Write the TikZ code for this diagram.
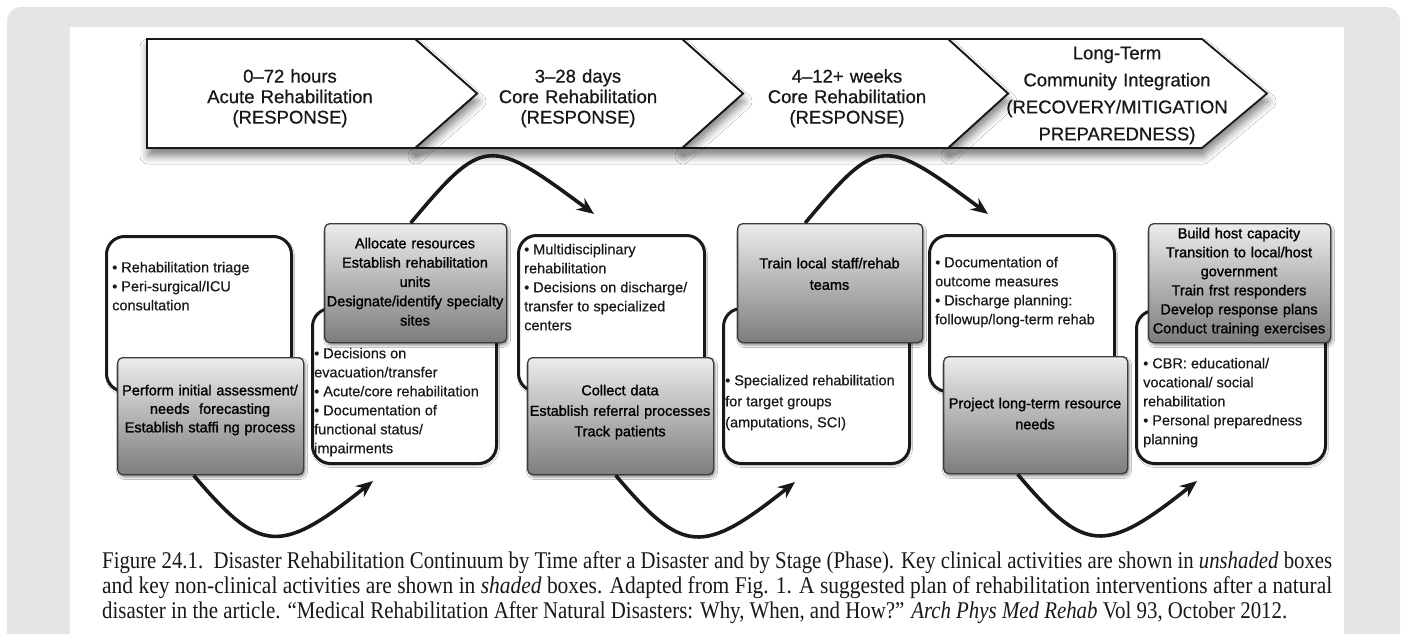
\documentclass[tikz,border=0pt]{standalone}
\usepackage{fontspec}
\setmainfont{Liberation Sans}
\newfontfamily\capfont{Liberation Serif}
\newfontfamily\shfont[FakeBold=1.2]{Liberation Sans}
\newfontfamily\wfont[FakeBold=0.5]{Liberation Sans}
\newfontfamily\chfont[FakeBold=0.7]{Liberation Sans}
\usepackage{graphicx}
\usetikzlibrary{arrows.meta,calc,shadows.blur}
\definecolor{pagegrey}{RGB}{229,229,229}
\definecolor{shtop}{RGB}{236,236,236}
\definecolor{shbot}{RGB}{125,125,125}
\definecolor{shedge}{RGB}{60,60,60}
\definecolor{ink}{RGB}{25,25,25}
\tikzset{
  chev/.style={draw=ink, line width=1.8pt, fill=white, line join=miter,
    blur shadow={shadow xshift=1pt, shadow yshift=-8pt, shadow blur radius=8pt, shadow opacity=50}},
  chevtext/.style={font=\chfont\fontsize{18.5}{20.5}\selectfont, align=center, text width=250pt, inner sep=0pt, text=ink},
  wbox/.style={draw=ink, line width=3pt, rounded corners=18pt, fill=white, inner sep=0pt, anchor=north west,
    blur shadow={shadow xshift=1pt, shadow yshift=-2pt, shadow blur radius=2pt, shadow opacity=30}},
  sbox/.style={draw=shedge, line width=1.3pt, rounded corners=5pt, top color=shtop, bottom color=shbot,
    inner sep=0pt, anchor=north west,
    blur shadow={shadow xshift=1.5pt, shadow yshift=-2.5pt, shadow blur radius=2.5pt, shadow opacity=45}},
  wtext/.style={font=\wfont\fontsize{14.5}{19}\selectfont, align=left, inner sep=0pt, anchor=north west, text=ink},
  stext/.style={font=\shfont\fontsize{14.5}{19}\selectfont, align=center, text width=200pt, inner sep=0pt, anchor=north, text=black},
  bigarrow/.style={draw=ink, line width=3.6pt, -{Stealth[length=17pt,width=14pt]}},
}
\begin{document}
\begin{tikzpicture}[x=1pt,y=-1pt]
\useasboundingbox (0,0) rectangle (1407,633);
% background
\begin{scope}
  \clip (0,0) rectangle (1407,633);
  \fill[pagegrey, rounded corners=14pt] (7,7) rectangle (1400,700);
  \fill[white] (70,27) rectangle (1344,700);
\end{scope}
% chevrons (right to left)
\filldraw[chev] (948,39) -- (1202,39) -- (1267,93.5) -- (1202,148) -- (948,148) -- (1008,93.5) -- cycle;
\filldraw[chev] (682,39) -- (948,39) -- (1008,93.5) -- (948,148) -- (682,148) -- (743,93.5) -- cycle;
\filldraw[chev] (415,39) -- (682,39) -- (743,93.5) -- (682,148) -- (415,148) -- (477,93.5) -- cycle;
\filldraw[chev] (147,39) -- (415,39) -- (477,93.5) -- (415,148) -- (147,148) -- cycle;
\node[chevtext] (c1) at (290,98.3) {0–72 hours\\Acute Rehabilitation\\(RESPONSE)};
\node[chevtext] (c2) at (578,98.3) {3–28 days\\Core Rehabilitation\\(RESPONSE)};
\node[chevtext] (c3) at (847,98.3) {4–12+ weeks\\Core Rehabilitation\\(RESPONSE)};
\node[chevtext, font=\chfont\fontsize{18.5}{27}\selectfont] (c4) at (1117,95.4) {Long-Term\\Community Integration\\(RECOVERY/MITIGATION\\PREPAREDNESS)};
% boxes
\node[wbox, minimum width=185pt, minimum height=155pt] (wA) at (105,235) {};
\node[sbox, minimum width=186pt, minimum height=117pt] (sA) at (117,357) {};
\node[wbox, minimum width=184pt, minimum height=155pt] (wB) at (311,307) {};
\node[sbox, minimum width=182pt, minimum height=119pt] (sB) at (324,223) {};
\node[wbox, minimum width=186pt, minimum height=156pt] (wC) at (517,234) {};
\node[sbox, minimum width=186pt, minimum height=117pt] (sC) at (527,357) {};
\node[wbox, minimum width=186pt, minimum height=155pt] (wD) at (722,307) {};
\node[sbox, minimum width=185pt, minimum height=119pt] (sD) at (737,223) {};
\node[wbox, minimum width=185pt, minimum height=156pt] (wE) at (928,234) {};
\node[sbox, minimum width=184pt, minimum height=117pt] (sE) at (943,356) {};
\node[wbox, minimum width=189pt, minimum height=153pt] (wF) at (1135,309) {};
\node[sbox, minimum width=182pt, minimum height=119pt] (sF) at (1148,223) {};
% texts
\node[wtext] (tA) at (112,261.6) {• Rehabilitation triage\\• Peri-surgical/ICU\\consultation};
\node[wtext] (tB) at (314,347.6) {• Decisions on\\evacuation/transfer\\• Acute/core rehabilitation\\• Documentation of\\functional status/\\impairments};
\node[wtext] (tC) at (524,243.6) {• Multidisciplinary\\rehabilitation\\• Decisions on discharge/\\transfer to specialized\\centers};
\node[wtext, font=\wfont\fontsize{14.5}{21}\selectfont] (tD) at (725,374.6) {• Specialized rehabilitation\\for target groups\\(amputations, SCI)};
\node[wtext] (tE) at (935,256.6) {• Documentation of\\outcome measures\\• Discharge planning:\\followup/long-term rehab};
\node[wtext] (tF) at (1143,357.6) {• CBR: educational/\\vocational/ social\\rehabilitation\\• Personal preparedness\\planning};
\node[stext, font=\shfont\fontsize{14.5}{18.5}\selectfont] (uA) at (210,384.6) {Perform initial assessment/\\needs\ \ forecasting\\Establish staffi ng process};
\node[stext, font=\shfont\fontsize{14.5}{19.3}\selectfont] (uB) at (415,237.6) {Allocate resources\\Establish rehabilitation\\units\\Designate/identify specialty\\sites};
\node[stext, font=\shfont\fontsize{14.5}{20.5}\selectfont] (uC) at (620,384.6) {Collect data\\Establish referral processes\\Track patients};
\node[stext, font=\shfont\fontsize{14.5}{21.5}\selectfont] (uD) at (829.5,257.6) {Train local staff/rehab\\teams};
\node[stext, font=\shfont\fontsize{14.5}{21}\selectfont] (uE) at (1035,397.6) {Project long-term resource\\needs};
\node[stext] (uF) at (1239,227.6) {Build host capacity\\Transition to local/host\\government\\Train frst responders\\Develop response plans\\Conduct training exercises};
% arrows
\coordinate (e1) at (594,214);
\coordinate (e2) at (988,214);
\coordinate (e3) at (373,481);
\coordinate (e4) at (795,482);
\coordinate (e5) at (1197,481);
\draw[bigarrow] ([xshift=-5pt]sB.north) .. controls +(73,-87) and +(-105,-78) .. (e1);
\draw[bigarrow] ([xshift=-25pt]sD.north) .. controls +(73,-87) and +(-105,-78) .. (e2);
\draw[bigarrow] ([xshift=-17pt]sA.south) .. controls +(67,79) and +(-93,74) .. (e3);
\draw[bigarrow] ([xshift=-5pt]sC.south) .. controls +(67,79) and +(-93,74) .. (e4);
\draw[bigarrow] ([xshift=-18pt]sE.south) .. controls +(67,79) and +(-93,74) .. (e5);
% caption
\node[anchor=base west, inner sep=0pt, text=ink] (cap1) at (102,568) {\resizebox{1230pt}{\height}{\capfont\fontsize{24}{25}\selectfont Figure 24.1.\ \ Disaster Rehabilitation Continuum by Time after a Disaster and by Stage (Phase). Key clinical activities are shown in \textit{unshaded} boxes}};
\node[anchor=base west, inner sep=0pt, text=ink] (cap2) at (102,593) {\resizebox{1230pt}{\height}{\capfont\fontsize{24}{25}\selectfont and key non-clinical activities are shown in \textit{shaded} boxes. Adapted from Fig. 1. A suggested plan of rehabilitation interventions after a natural}};
\node[anchor=base west, inner sep=0pt, text=ink] (cap3) at (102,618) {\resizebox{1185pt}{\height}{\capfont\fontsize{24}{25}\selectfont disaster in the article. “Medical Rehabilitation After Natural Disasters: Why, When, and How?” \textit{Arch Phys Med Rehab} Vol 93, October 2012.}};
\end{tikzpicture}
\end{document}
